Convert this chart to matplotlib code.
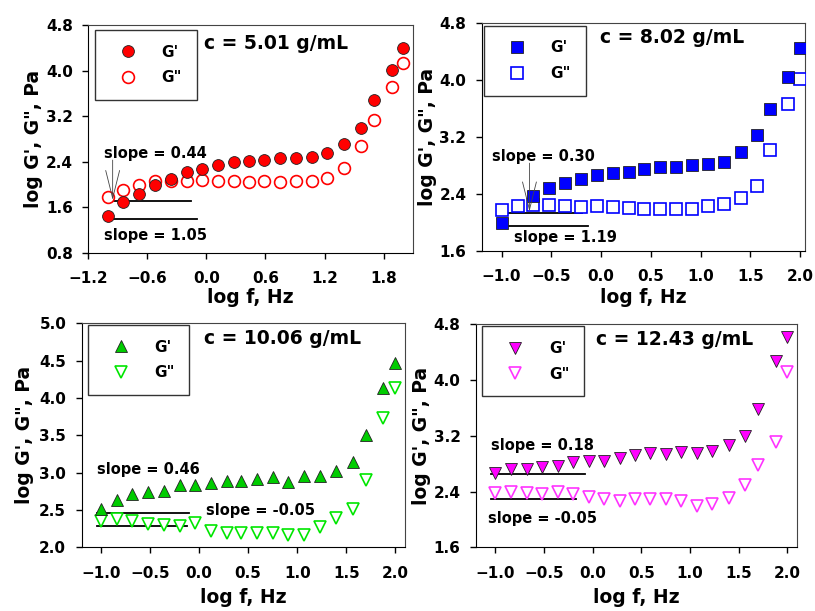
import numpy as np
import matplotlib
matplotlib.use('Agg')
from matplotlib import pyplot as plt

plt.rcParams['font.family'] = ['DejaVu Sans']
plt.rcParams['font.weight'] = 'bold'

# --- DATA ---
# log of the oscillation frequency (Hz), same sweep for every sample
LOG_F = [-1.0, -0.84, -0.68, -0.52, -0.36, -0.2, -0.04, 0.12, 0.28, 0.43,
         0.59, 0.75, 0.91, 1.07, 1.23, 1.40, 1.57, 1.70, 1.88, 2.0]

CONC_LABELS = ['c = 5.01 g/mL', 'c = 8.02 g/mL', 'c = 10.06 g/mL', 'c = 12.43 g/mL']

# log G' and log G'' (Pa) for each concentration
GP_501 = [1.44, 1.69, 1.84, 2.00, 2.10, 2.22, 2.28, 2.35, 2.39, 2.42,
          2.44, 2.46, 2.47, 2.49, 2.56, 2.72, 2.99, 3.49, 4.01, 4.39]
GPP_501 = [1.78, 1.91, 1.99, 2.06, 2.06, 2.07, 2.08, 2.07, 2.07, 2.05,
           2.07, 2.05, 2.06, 2.06, 2.11, 2.29, 2.68, 3.14, 3.71, 4.13]

GP_802 = [1.99, np.nan, 2.37, 2.48, 2.55, 2.61, 2.67, 2.69, 2.71, 2.75,
          2.77, 2.78, 2.81, 2.82, 2.84, 2.98, 3.23, 3.59, 4.04, 4.45]
GPP_802 = [2.17, 2.23, 2.24, 2.24, 2.22, 2.21, 2.22, 2.21, 2.20, 2.19,
           2.19, 2.18, 2.19, 2.22, 2.25, 2.34, 2.51, 3.01, 3.66, 4.01]

GP_1006 = [2.51, 2.63, 2.72, 2.74, 2.76, 2.83, 2.83, 2.86, 2.89, 2.89,
           2.91, 2.94, 2.88, 2.95, 2.96, 3.02, 3.14, 3.50, 4.14, 4.47]
GPP_1006 = [2.35, 2.38, 2.36, 2.32, 2.30, 2.29, 2.33, 2.22, 2.19, 2.19,
            2.19, 2.19, 2.17, 2.17, 2.28, 2.39, 2.52, 2.90, 3.73, 4.13]

GP_1243 = [2.67, 2.72, 2.73, 2.76, 2.77, 2.82, 2.84, 2.84, 2.89, 2.92,
           2.96, 2.94, 2.97, 2.95, 2.99, 3.07, 3.20, 3.59, 4.27, 4.62]
GPP_1243 = [2.38, 2.40, 2.38, 2.37, 2.39, 2.36, 2.33, 2.30, 2.26, 2.30,
            2.29, 2.29, 2.26, 2.19, 2.22, 2.31, 2.49, 2.78, 3.12, 4.12]

# low-frequency slope guides: (x start, x end, level)
SLOPE_501 = [(-0.99, -0.15, 1.72), (-0.99, -0.09, 1.40)]
SLOPE_802 = [(-1.04, -0.19, 2.13), (-1.01, -0.13, 1.95)]
SLOPE_1006 = [(-1.045, -0.10, 2.46), (-1.045, -0.12, 2.29)]
SLOPE_1243 = [(-1.05, -0.08, 2.65), (-1.05, -0.17, 2.30)]

SLOPE_TEXT_501 = [('slope = 0.44', -1.037, 2.54), ('slope = 1.05', -1.037, 1.10)]
SLOPE_TEXT_802 = [('slope = 0.30', -1.10, 2.92), ('slope = 1.19', -0.876, 1.79)]
SLOPE_TEXT_1006 = [('slope = 0.46', -1.045, 3.045), ('slope = -0.05', 0.068, 2.49)]
SLOPE_TEXT_1243 = [('slope = 0.18', -1.05, 3.056), ('slope = -0.05', -1.08, 2.015)]

# pointer arrows from a slope label down to its guide line: (x, y text, y tip)
ARROW_501 = (-0.95, 2.43, 1.73)
ARROW_802 = (-0.72, 2.83, 2.15)

X_TICKS_1 = [-1.2, -0.6, 0.0, 0.6, 1.2, 1.8]
X_TICKS = [-1.0, -0.5, 0.0, 0.5, 1.0, 1.5, 2.0]
Y_TICKS_1 = [0.8, 1.6, 2.4, 3.2, 4.0, 4.8]
Y_TICKS_2 = [1.6, 2.4, 3.2, 4.0, 4.8]
Y_TICKS_3 = [2.0, 2.5, 3.0, 3.5, 4.0, 4.5, 5.0]

# --- LAYOUT / STYLE ---
panels = [
    dict(rect=[0.108, 0.586, 0.399, 0.373], gp=GP_501, gpp=GPP_501, label=CONC_LABELS[0],
         marker='o', ms=8.5, color='#FF0000', xlim=(-1.2, 2.1), ylim=(0.8, 4.8),
         xticks=X_TICKS_1, yticks=Y_TICKS_1, xtickfmt='%.1f',
         slopes=SLOPE_501, texts=SLOPE_TEXT_501, arrow=ARROW_501,
         leg=(0.022, 0.978), title_pos=(0.357, 0.917), xlab_y=-0.197, ylab_x=-0.169),
    dict(rect=[0.591, 0.590, 0.397, 0.372], gp=GP_802, gpp=GPP_802, label=CONC_LABELS[1],
         marker='s', ms=8.0, color='#0000FF', xlim=(-1.2, 2.05), ylim=(1.6, 4.8),
         xticks=X_TICKS, yticks=Y_TICKS_2, xtickfmt='%.1f',
         slopes=SLOPE_802, texts=SLOPE_TEXT_802, arrow=ARROW_802,
         leg=(0.008, 0.988), title_pos=(0.366, 0.938), xlab_y=-0.208, ylab_x=-0.168),
    dict(rect=[0.100, 0.104, 0.397, 0.367], gp=GP_1006, gpp=GPP_1006, label=CONC_LABELS[2],
         marker='^', marker2='v', ms=9.0, color='#00CC00', color2='#00E600',
         xlim=(-1.2, 2.1), ylim=(2.0, 5.0),
         xticks=X_TICKS, yticks=Y_TICKS_3, xtickfmt='%.1f',
         slopes=SLOPE_1006, texts=SLOPE_TEXT_1006, arrow=None,
         leg=(0.020, 0.992), title_pos=(0.378, 0.930), xlab_y=-0.223, ylab_x=-0.175),
    dict(rect=[0.584, 0.104, 0.394, 0.365], gp=GP_1243, gpp=GPP_1243, label=CONC_LABELS[3],
         marker='v', ms=9.0, color='#FF00FF', color2='#FF33FF',
         xlim=(-1.2, 2.1), ylim=(1.6, 4.8),
         xticks=X_TICKS, yticks=Y_TICKS_2, xtickfmt='%.1f',
         slopes=SLOPE_1243, texts=SLOPE_TEXT_1243, arrow=None,
         leg=(0.020, 0.991), title_pos=(0.373, 0.933), xlab_y=-0.225, ylab_x=-0.171),
]

fig = plt.figure(figsize=(8.15, 6.11), dpi=100)

for p in panels:
    ax = fig.add_axes(p['rect'])
    x = np.array(LOG_F)
    c2 = p.get('color2', p['color'])
    ax.plot(x, p['gp'], linestyle='none', marker=p['marker'], ms=p['ms'],
            mfc=p['color'], mec='#222222', mew=0.6, label="G'", zorder=4)
    ax.plot(x, p['gpp'], linestyle='none', marker=p.get('marker2', p['marker']), ms=p['ms'],
            mfc='white', mec=c2, mew=1.2, label='G"', zorder=3)

    # slope guide lines and their labels
    for x0, x1, lvl in p['slopes']:
        ax.plot([x0, x1], [lvl, lvl], color='black', lw=1.3, zorder=2)
    for txt, tx, ty in p['texts']:
        ax.text(tx, ty, txt, fontsize=10.5, fontweight='bold', ha='left', va='center', zorder=5)
    if p['arrow'] is not None:
        ax_x, y_from, y_to = p['arrow']
        ax.annotate('', xy=(ax_x, y_to), xytext=(ax_x, y_from),
                    arrowprops=dict(arrowstyle='->,head_length=1.0,head_width=0.25',
                                    mutation_scale=20, lw=0.6, color='#444444',
                                    shrinkA=0, shrinkB=0), zorder=5)

    ax.text(p['title_pos'][0], p['title_pos'][1], p['label'], transform=ax.transAxes,
            fontsize=13.5, fontweight='bold', ha='left', va='center')

    ax.set_xlim(*p['xlim'])
    ax.set_ylim(*p['ylim'])
    ax.set_xticks(p['xticks'])
    ax.set_yticks(p['yticks'])
    ax.set_xticklabels([('%.1f' % v).replace('-', '\u2212') for v in p['xticks']])
    ax.set_yticklabels(['%.1f' % v for v in p['yticks']])
    ax.tick_params(axis='both', direction='out', length=4, width=1, labelsize=11)
    ax.tick_params(axis='x', pad=9)
    ax.tick_params(axis='y', pad=7)
    for lab in ax.get_xticklabels() + ax.get_yticklabels():
        lab.set_fontweight('bold')

    for side in ['left', 'bottom']:
        ax.spines[side].set_color('black')
    for side in ['top', 'right']:
        ax.spines[side].set_color('#444444')

    ax.set_xlabel('log f, Hz', fontsize=13.5, fontweight='bold', va='center')
    ax.xaxis.set_label_coords(0.5, p['xlab_y'])
    ax.set_ylabel('log G\', G", Pa', fontsize=13.5, fontweight='bold', va='center')
    ax.yaxis.set_label_coords(p['ylab_x'], 0.5)

    ax.legend(loc='upper left', bbox_to_anchor=p['leg'], borderaxespad=0,
              fancybox=False, edgecolor='#333333', framealpha=1, borderpad=0.95,
              handlelength=2.4, handletextpad=1.0, labelspacing=0.7, numpoints=1,
              prop={'size': 11, 'weight': 'bold'})

fig.savefig('out.png', dpi=100, facecolor='white')
